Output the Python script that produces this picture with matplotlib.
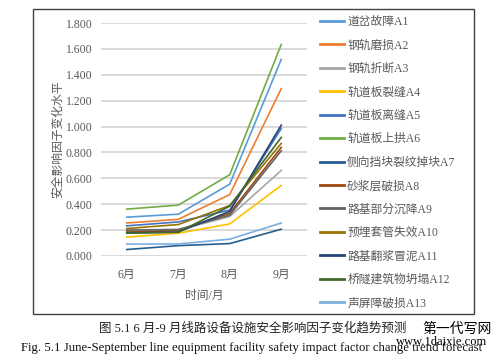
import matplotlib
matplotlib.use("Agg")
import matplotlib.pyplot as plt
from matplotlib.patches import Rectangle

plt.rcParams["font.family"] = ["Liberation Serif", "Noto Sans CJK SC", "DejaVu Sans"]

months = ["6月", "7月", "8月", "9月"]

labels = [
    "道岔故障A1", "钢轨磨损A2", "钢轨折断A3", "轨道板裂缝A4", "轨道板离缝A5",
    "轨道板上拱A6", "侧向挡块裂纹掉块A7", "砂浆层破损A8", "路基部分沉降A9",
    "预埋套管失效A10", "路基翻浆冒泥A11", "桥隧建筑物坍塌A12", "声屏障破损A13",
]

a1 = [0.300, 0.323, 0.555, 1.519]
a2 = [0.255, 0.283, 0.475, 1.293]
a3 = [0.190, 0.200, 0.305, 0.661]
a4 = [0.146, 0.176, 0.248, 0.545]
a5 = [0.233, 0.263, 0.355, 0.985]
a6 = [0.362, 0.393, 0.628, 1.634]
a7 = [0.050, 0.080, 0.096, 0.207]
a8 = [0.185, 0.195, 0.330, 0.839]
a9 = [0.200, 0.205, 0.315, 0.813]
a10 = [0.212, 0.243, 0.390, 0.870]
a11 = [0.178, 0.185, 0.345, 1.011]
a12 = [0.176, 0.183, 0.385, 0.916]
a13 = [0.092, 0.093, 0.130, 0.255]
series = [a1, a2, a3, a4, a5, a6, a7, a8, a9, a10, a11, a12, a13]

colors = ["#5B9BD5", "#ED7D31", "#A5A5A5", "#FFC000", "#4472C4", "#70AD47",
          "#255E91", "#9E480E", "#636363", "#997300", "#264478", "#43682B", "#7CAFDD"]

W, H = 497, 357
fig = plt.figure(figsize=(W / 100, H / 100), dpi=100)

# outer chart frame
fig.patches.append(Rectangle((33 / W, 1 - 314 / H), 441 / W, 305 / H,
                             transform=fig.transFigure, fill=False,
                             edgecolor="#404040", linewidth=1.0))

ax = fig.add_axes([101 / W, 1 - 256 / H, 206 / W, 233 / H])
x = range(len(months))
for vals, lab, col in zip(series, labels, colors):
    ax.plot(x, vals, color=col, linewidth=1.2, label=lab)

ax.set_xlim(-0.5, 3.5)
ax.set_ylim(0, 1.8)
ax.set_yticks([i * 0.2 for i in range(10)])
ax.set_yticklabels([f"{i * 0.2:.3f}" for i in range(10)])
ax.set_xticks(list(x))
ax.set_xticklabels(months)
ax.grid(axis="y", color="#D9D9D9", linewidth=1.4)
ax.set_axisbelow(True)
for s in ax.spines.values():
    s.set_visible(False)
ax.tick_params(length=0, labelsize=8.5, colors="#595959", pad=6)
ax.tick_params(axis="x", pad=9)
ax.set_xlabel("时间/月", fontsize=8.5, color="#595959")
ax.set_ylabel("安全影响因子变化水平", fontsize=8.5, color="#595959")
ax.xaxis.set_label_coords(0.5, -(290 - 256) / 233)
ax.yaxis.set_label_coords((64 - 101) / 206, 0.5)

leg = fig.legend(loc="upper left", bbox_to_anchor=(320 / W, 1 - 16 / H),
                 frameon=False, fontsize=8.5, labelcolor="#595959",
                 handlelength=2.0, handletextpad=0.3, labelspacing=0.97,
                 borderaxespad=0, borderpad=0)
for line in leg.get_lines():
    line.set_linewidth(2.0)

fig.text(253 / W, 1 - 328 / H, "图 5.1 6 月-9 月线路设备设施安全影响因子变化趋势预测",
         ha="center", va="center", fontsize=9, color="#222222")
fig.text(252 / W, 1 - 348 / H,
         "Fig. 5.1 June-September line equipment facility safety impact factor change trend forecast",
         ha="center", va="center", fontsize=9.2, color="#111111")
fig.text(457 / W, 1 - 329 / H, "第一代写网", ha="center", va="center",
         fontsize=10, color="black")
fig.text(442 / W, 1 - 342 / H, "www.1daixie.com", ha="center", va="center",
         fontsize=9, color="black")

fig.savefig("out.png", dpi=100)
